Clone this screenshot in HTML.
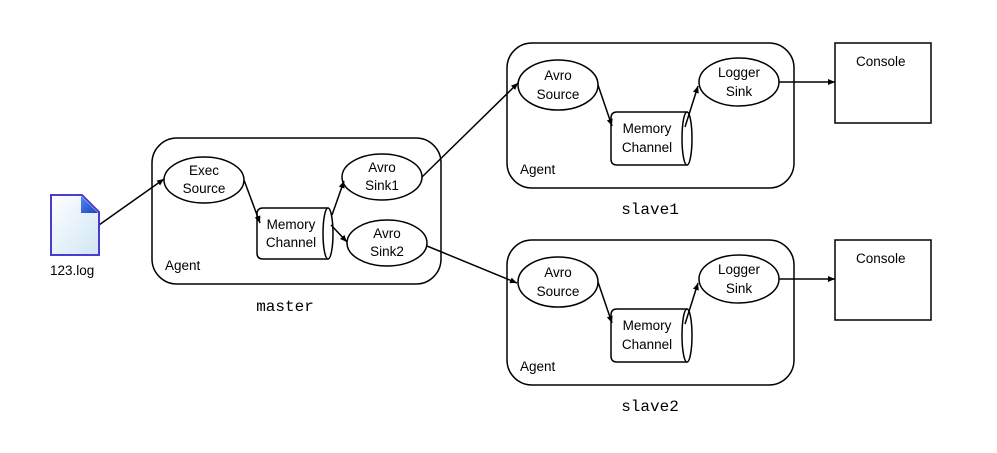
<!DOCTYPE html>
<html><head><meta charset="utf-8"><style>
html,body{margin:0;padding:0;background:#fff;}
svg text{font-family:"Liberation Sans","DejaVu Sans",sans-serif;font-size:13.5px;fill:#000;}
.m{font-family:"Liberation Mono","DejaVu Sans Mono",monospace;font-size:16px;}
</style></head><body>
<svg width="997" height="448" viewBox="0 0 997 448" xmlns="http://www.w3.org/2000/svg">
<defs>
<marker id="a" markerWidth="8" markerHeight="8" refX="7" refY="4" orient="auto" markerUnits="userSpaceOnUse"><path d="M0,1 L7,4 L0,7 z" fill="#000"/></marker>
<linearGradient id="g" x1="0" y1="0" x2="1" y2="1"><stop offset="0" stop-color="#ffffff"/><stop offset="1" stop-color="#cfe6f4"/></linearGradient>
<linearGradient id="g2" x1="0" y1="0" x2="1" y2="1"><stop offset="0" stop-color="#4a8cf0"/><stop offset="1" stop-color="#2040c0"/></linearGradient>
</defs>
<g fill="none" stroke="#000" stroke-width="1.5">
<rect x="152" y="138" width="289" height="146" rx="25"/>
<ellipse cx="204" cy="180" rx="40" ry="23" fill="#fff"/>
<path d="M328,208 L263,208 Q257,208 257,214 L257,253 Q257,259 263,259 L328,259" fill="#fff"/>
<ellipse cx="328" cy="233.5" rx="5" ry="25.5" fill="#fff"/>
<ellipse cx="382" cy="177" rx="40" ry="23" fill="#fff"/>
<ellipse cx="387" cy="243" rx="40" ry="23" fill="#fff"/>
<line x1="244" y1="180" x2="260" y2="223" marker-end="url(#a)"/>
<line x1="332" y1="215" x2="344" y2="181" marker-end="url(#a)"/>
<line x1="331" y1="225" x2="347" y2="242" marker-end="url(#a)"/>
<line x1="99" y1="225" x2="164" y2="179" marker-end="url(#a)"/>
<line x1="422" y1="177" x2="518" y2="83" marker-end="url(#a)"/>
<line x1="427" y1="246" x2="517" y2="283" marker-end="url(#a)"/>
</g>
<path d="M51,195 L82,195 L99,212 L99,255 L51,255 Z" fill="url(#g)" stroke="#4a3cd0" stroke-width="2"/>
<path d="M81,196 L98,213 L81,213 Z" fill="url(#g2)"/>
<text x="50" y="275">123.log</text>
<text x="204" y="175" text-anchor="middle">Exec</text>
<text x="204" y="193" text-anchor="middle">Source</text>
<text x="291" y="229" text-anchor="middle">Memory</text>
<text x="291" y="247" text-anchor="middle">Channel</text>
<text x="382" y="172" text-anchor="middle">Avro</text>
<text x="382" y="190" text-anchor="middle">Sink1</text>
<text x="387" y="238" text-anchor="middle">Avro</text>
<text x="387" y="256" text-anchor="middle">Sink2</text>
<text x="165" y="270">Agent</text>
<text class="m" x="285" y="311" text-anchor="middle">master</text>

<g>
<g fill="none" stroke="#000" stroke-width="1.5">
<rect x="507" y="43" width="287" height="145" rx="25"/>
<ellipse cx="558" cy="85" rx="40" ry="25" fill="#fff"/>
<path d="M687,112 L617,112 Q611,112 611,118 L611,159 Q611,165 617,165 L687,165" fill="#fff"/>
<ellipse cx="687" cy="138.5" rx="5" ry="26.5" fill="#fff"/>
<ellipse cx="739" cy="82" rx="40" ry="24" fill="#fff"/>
<line x1="598" y1="85" x2="612" y2="126" marker-end="url(#a)"/>
<line x1="685" y1="127" x2="698" y2="86" marker-end="url(#a)"/>
<line x1="779" y1="82" x2="835" y2="82" marker-end="url(#a)"/>
<rect x="835" y="43" width="96" height="80"/>
</g>
<text x="558" y="80" text-anchor="middle">Avro</text>
<text x="558" y="99" text-anchor="middle">Source</text>
<text x="647" y="133" text-anchor="middle">Memory</text>
<text x="647" y="152" text-anchor="middle">Channel</text>
<text x="739" y="77" text-anchor="middle">Logger</text>
<text x="739" y="96" text-anchor="middle">Sink</text>
<text x="856" y="66">Console</text>
<text x="520" y="174">Agent</text>
<text class="m" x="650" y="214" text-anchor="middle">slave1</text>
</g>
<g transform="translate(0,197)">
<g fill="none" stroke="#000" stroke-width="1.5">
<rect x="507" y="43" width="287" height="145" rx="25"/>
<ellipse cx="558" cy="85" rx="40" ry="25" fill="#fff"/>
<path d="M687,112 L617,112 Q611,112 611,118 L611,159 Q611,165 617,165 L687,165" fill="#fff"/>
<ellipse cx="687" cy="138.5" rx="5" ry="26.5" fill="#fff"/>
<ellipse cx="739" cy="82" rx="40" ry="24" fill="#fff"/>
<line x1="598" y1="85" x2="612" y2="126" marker-end="url(#a)"/>
<line x1="685" y1="127" x2="698" y2="86" marker-end="url(#a)"/>
<line x1="779" y1="82" x2="835" y2="82" marker-end="url(#a)"/>
<rect x="835" y="43" width="96" height="80"/>
</g>
<text x="558" y="80" text-anchor="middle">Avro</text>
<text x="558" y="99" text-anchor="middle">Source</text>
<text x="647" y="133" text-anchor="middle">Memory</text>
<text x="647" y="152" text-anchor="middle">Channel</text>
<text x="739" y="77" text-anchor="middle">Logger</text>
<text x="739" y="96" text-anchor="middle">Sink</text>
<text x="856" y="66">Console</text>
<text x="520" y="174">Agent</text>
<text class="m" x="650" y="214" text-anchor="middle">slave2</text>
</g>
</svg>
</body></html>
